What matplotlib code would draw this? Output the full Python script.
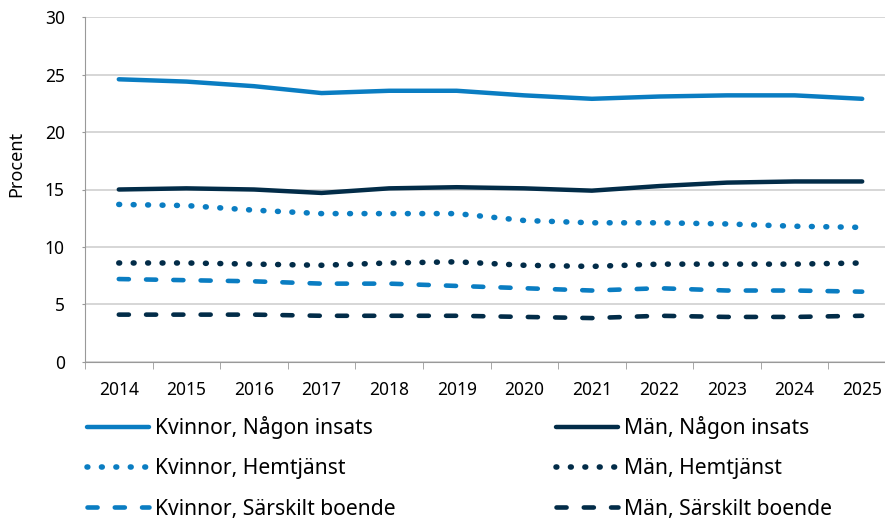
import matplotlib.pyplot as plt
import numpy as np

plt.rcParams["font.family"] = ["Noto Sans", "DejaVu Sans"]

years = [2014, 2015, 2016, 2017, 2018, 2019, 2020, 2021, 2022, 2023, 2024, 2025]

kvinnor_nagon = [24.6, 24.4, 24.0, 23.4, 23.6, 23.6, 23.2, 22.9, 23.1, 23.2, 23.2, 22.9]
man_nagon = [15.0, 15.1, 15.0, 14.7, 15.1, 15.2, 15.1, 14.9, 15.3, 15.6, 15.7, 15.7]
kvinnor_hemtjanst = [13.7, 13.6, 13.2, 12.9, 12.9, 12.9, 12.3, 12.1, 12.1, 12.0, 11.8, 11.7]
man_hemtjanst = [8.6, 8.6, 8.5, 8.4, 8.6, 8.7, 8.4, 8.3, 8.5, 8.5, 8.5, 8.6]
kvinnor_sarskilt = [7.2, 7.1, 7.0, 6.8, 6.8, 6.6, 6.4, 6.2, 6.4, 6.2, 6.2, 6.1]
man_sarskilt = [4.1, 4.1, 4.1, 4.0, 4.0, 4.0, 3.9, 3.8, 4.0, 3.9, 3.9, 4.0]

BLUE = "#0a7dc2"
NAVY = "#022c48"
# (linestyle, linewidth) per kind of series
SOLID = ("-", 3.2)
DOTS = ((0, (0.15, 2.45)), 4.0)
DASH = ((0, (2.2, 3.75)), 3.3)

fig = plt.figure(figsize=(8.85, 5.22), dpi=100)
ax = fig.add_axes([85 / 885, 160.3 / 522, 811 / 885, 344.4 / 522])

x = np.arange(len(years))
series = [
    (kvinnor_nagon, BLUE, SOLID, "Kvinnor, Någon insats"),
    (kvinnor_hemtjanst, BLUE, DOTS, "Kvinnor, Hemtjänst"),
    (kvinnor_sarskilt, BLUE, DASH, "Kvinnor, Särskilt boende"),
    (man_nagon, NAVY, SOLID, "Män, Någon insats"),
    (man_hemtjanst, NAVY, DOTS, "Män, Hemtjänst"),
    (man_sarskilt, NAVY, DASH, "Män, Särskilt boende"),
]
handles = []
for vals, col, (ls, lw), lab in series:
    (h,) = ax.plot(x, vals, color=col, ls=ls, lw=lw, label=lab,
                   dash_capstyle="round", solid_capstyle="round")
    handles.append(h)

ax.set_xlim(-0.5, 11.5)
ax.set_ylim(0, 30)
ax.set_yticks(range(0, 31, 5))
ax.set_xticks(x)
ax.set_xticklabels([str(y) for y in years])
ax.set_xticks(np.arange(-0.5, 12, 1), minor=True)
ax.tick_params(axis="x", which="major", length=0, pad=14, labelsize=12.5)
ax.tick_params(axis="x", which="minor", length=5, color="#999999")
ax.tick_params(axis="y", length=2.5, color="#999999", pad=12, labelsize=12.5)
ax.grid(axis="y", color="#d0d0d0", lw=1.2)
ax.set_axisbelow(True)
for s in ["top", "right"]:
    ax.spines[s].set_visible(False)
for s in ["left", "bottom"]:
    ax.spines[s].set_color("#999999")
ax.set_ylabel("Procent", fontsize=13)
ax.yaxis.set_label_coords(-0.074, 0.575)

leg_kw = dict(frameon=False, fontsize=15.2, handlelength=2.95, handletextpad=0.28,
              labelspacing=0.92, borderaxespad=0, borderpad=0)
fig.legend(handles=handles[:3], loc="upper left",
           bbox_to_anchor=(87 / 885, 1 - 416 / 522), **leg_kw)
fig.legend(handles=handles[3:], loc="upper left",
           bbox_to_anchor=(556 / 885, 1 - 416 / 522), **leg_kw)

fig.savefig("out.png", dpi=100)
